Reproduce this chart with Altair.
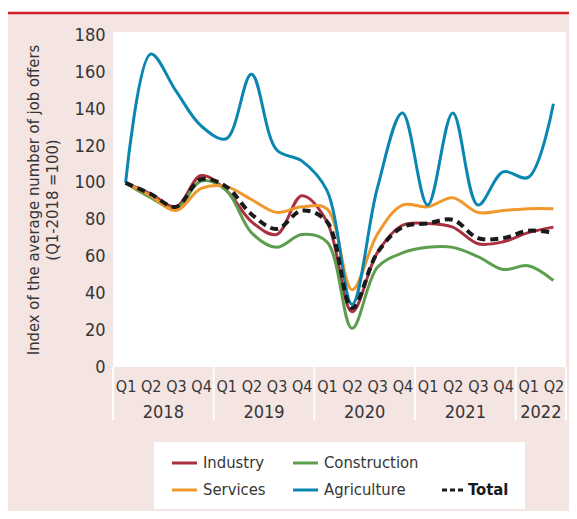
import altair as alt
import pandas as pd

# ---------------- data ----------------
years = ["2018", "2019", "2020", "2021", "2022"]
quarter_names = ["Q1", "Q2", "Q3", "Q4"]
periods = [(y, q) for y in years for q in quarter_names][:18]

industry = [100, 94, 87, 104, 96, 79, 72, 93, 79, 30, 62, 77, 78, 76, 67, 68, 73, 76]
construction = [100, 92, 86, 101, 96, 73, 65, 72, 68, 21, 54, 62, 65, 65, 60, 53, 55, 47]
services = [100, 93, 85, 97, 98, 91, 84, 87, 86, 42, 72, 88, 87, 92, 84, 85, 86, 86]
agriculture = [100, 170, 150, 131, 124, 159, 118, 112, 96, 34, 97, 138, 88, 138, 88, 106, 103, 143]
total = [100, 94, 87, 102, 98, 83, 75, 85, 79, 32, 62, 76, 78, 80, 70, 70, 74, 73]

series = {
    "Industry": industry,
    "Construction": construction,
    "Services": services,
    "Agriculture": agriculture,
}
colors = {
    "Industry": "#a8303f",
    "Construction": "#5c9e4e",
    "Services": "#f0982c",
    "Agriculture": "#0a86b0",
}

rows = []
for name, vals in series.items():
    for i, v in enumerate(vals):
        rows.append({"series": name, "idx": i, "value": v})
df = pd.DataFrame(rows)
df_total = pd.DataFrame({"idx": list(range(len(total))), "value": total})

year_rows = []
for y in years:
    ids = [i for i, (yy, q) in enumerate(periods) if yy == y]
    year_rows.append({"year": y, "center": sum(ids) / len(ids), "start": min(ids) - 0.5})
df_years = pd.DataFrame(year_rows)
bounds = list(df_years["start"]) + [len(periods) - 0.5]
df_bounds = pd.DataFrame({"b": bounds})

qlabels = [q for (y, q) in periods]
label_expr = "[" + ",".join("'%s'" % q for q in qlabels) + "][datum.value]"

FONT = "'Liberation Sans Narrow', 'DejaVu Sans Condensed', 'Roboto', sans-serif"
TXT = "#363636"
W, H = 453, 335

xscale = alt.Scale(domain=[-0.5, len(periods) - 0.5], nice=False, zero=False)
yscale = alt.Scale(domain=[0, 182], nice=False)

xaxis = alt.Axis(values=list(range(len(periods))), labelExpr=label_expr, title=None,
                 grid=False, ticks=False, domain=False, labelPadding=11,
                 labelOverlap=False, labelFlush=False,
                 labelFontSize=16, labelFont=FONT, labelColor=TXT, labelBaseline="top")
yaxis = alt.Axis(values=list(range(0, 181, 20)), grid=False, ticks=False, domain=False,
                 labelOverlap=False, labelFlush=False,
                 labelPadding=8, labelFontSize=18, labelFont=FONT, labelColor=TXT,
                 title=["Index of the average number of job offers", "(Q1-2018 =100)"],
                 titleFont=FONT, titleFontSize=16.5, titleFontWeight="normal",
                 titleColor=TXT, titlePadding=14)

lines = alt.Chart(df).mark_line(interpolate="catmull-rom", strokeWidth=3).encode(
    x=alt.X("idx:Q", scale=xscale, axis=xaxis),
    y=alt.Y("value:Q", scale=yscale, axis=yaxis),
    color=alt.Color("series:N", scale=alt.Scale(domain=list(colors.keys()),
                                                range=list(colors.values())), legend=None),
    order=alt.Order("idx:Q"),
)

total_line = alt.Chart(df_total).mark_line(interpolate="catmull-rom", strokeWidth=4,
                                           strokeDash=[8, 5], color="#1a1a1a").encode(
    x=alt.X("idx:Q", scale=xscale, axis=xaxis),
    y=alt.Y("value:Q", scale=yscale, axis=yaxis),
)

# year separators below the plot
seps = alt.Chart(df_bounds).mark_rule(color="white", strokeWidth=2, clip=False).encode(
    x=alt.X("b:Q", scale=xscale, axis=xaxis),
    y=alt.value(H),
    y2=alt.value(H + 53),
)
year_text = alt.Chart(df_years).mark_text(fontSize=18, font=FONT, color=TXT,
                                          baseline="middle", clip=False).encode(
    x=alt.X("center:Q", scale=xscale, axis=xaxis),
    y=alt.value(H + 46),
    text="year:N",
)

# top white strip + red line
top_white = alt.Chart(df_total.head(1)).mark_rect(color="white", clip=False).encode(
    x=alt.value(-110), x2=alt.value(W + 20), y=alt.value(-26), y2=alt.value(-20))
top_red = alt.Chart(df_total.head(1)).mark_rule(color="#cf1f27", strokeWidth=2.5, clip=False).encode(
    x=alt.value(-110), x2=alt.value(W + 20), y=alt.value(-19))

# legend (manual)
leg_items = pd.DataFrame([
    {"name": "Industry", "col": 0, "row": 0, "c": colors["Industry"]},
    {"name": "Construction", "col": 1, "row": 0, "c": colors["Construction"]},
    {"name": "Services", "col": 0, "row": 1, "c": colors["Services"]},
    {"name": "Agriculture", "col": 1, "row": 1, "c": colors["Agriculture"]},
])
leg_box = alt.Chart(df_total.head(1)).mark_rect(color="white", clip=False).encode(
    x=alt.value(41), x2=alt.value(412), y=alt.value(410), y2=alt.value(477))
leg_layers = [leg_box]
col_x = [59, 180]
row_y = [431, 458]
for _, r in leg_items.iterrows():
    one = pd.DataFrame([r])
    leg_layers.append(alt.Chart(one).mark_rule(color=r["c"], strokeWidth=3, clip=False).encode(
        x=alt.value(col_x[r["col"]]), x2=alt.value(col_x[r["col"]] + 25), y=alt.value(row_y[r["row"]])))
    leg_layers.append(alt.Chart(one).mark_text(font=FONT, fontSize=16.5, color=TXT, align="left",
                                               baseline="middle", clip=False).encode(
        x=alt.value(col_x[r["col"]] + 31), y=alt.value(row_y[r["row"]]), text="name:N"))
tot_df = pd.DataFrame([{"name": "Total"}])
leg_layers.append(alt.Chart(tot_df).mark_rule(color="#1a1a1a", strokeWidth=3, strokeDash=[5, 3],
                                              clip=False).encode(
    x=alt.value(329), x2=alt.value(350), y=alt.value(row_y[1])))
leg_layers.append(alt.Chart(tot_df).mark_text(font=FONT, fontSize=16.5, fontWeight="bold", color="#1a1a1a",
                                              align="left", baseline="middle", clip=False).encode(
    x=alt.value(355), y=alt.value(row_y[1]), text="name:N"))

chart = alt.layer(top_white, top_red, lines, total_line, seps, year_text, *leg_layers).properties(
    width=W, height=H,
    padding={"left": 105, "top": 24, "right": 3, "bottom": 144},
    autosize=alt.AutoSizeParams(type="none"),
    background="#f4e4e2",
).configure_view(fill="white", strokeWidth=0).configure_axis(labelOverlap=False, labelFlush=False)

chart.save("out.html", embed_options={"renderer": "svg", "actions": False})
